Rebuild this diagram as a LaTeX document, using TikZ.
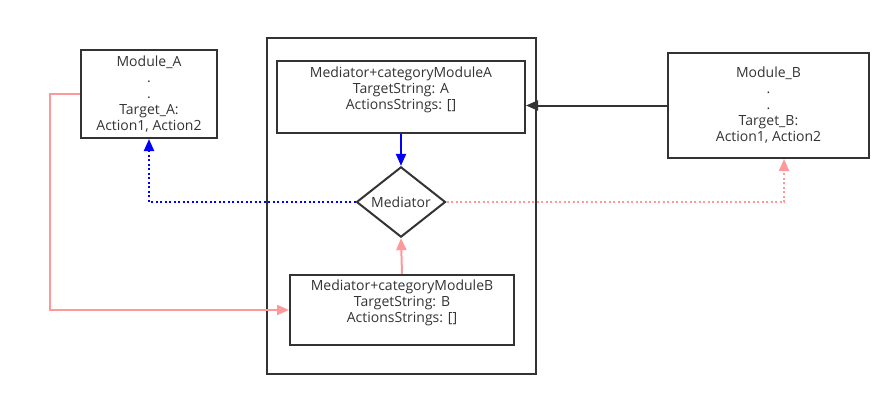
\documentclass[tikz,border=0pt]{standalone}
\usepackage{fontspec}
\setmainfont{Open Sans}
\usepackage{xcolor}
\usepackage{tikz}
\usetikzlibrary{arrows.meta,shapes.geometric}

\definecolor{ink}{HTML}{333333}
\definecolor{pinkline}{HTML}{FF9999}

\begin{document}
\begin{tikzpicture}[
x=1pt, y=-1pt,
font=\fontsize{14}{16}\selectfont,
box/.style={draw=ink, line width=2pt, text=ink, align=center, inner sep=0pt},
module/.style={box, minimum width=136pt, minimum height=88pt},
category/.style={box, text depth=18pt},
hub/.style={draw=ink, line width=2pt, text=ink, diamond, inner sep=0pt, minimum width=89pt, minimum height=70pt},
tip/.style={-{Triangle[length=12pt, width=10pt]}},
blackarr/.style={tip, draw=ink, line width=2pt},
bluearr/.style={tip, draw=blue, line width=2pt},
pinkarr/.style={tip, draw=pinkline, line width=2pt},
dots/.style={dash pattern=on 2pt off 2.5pt}
]
\useasboundingbox (0,0) rectangle (891,412);
% the two modules
\node[module] (modA) at (149,94) {Module\_A\\.\\.\\Target\_A:\\Action1, Action2};
\node[module, minimum width=201pt, minimum height=105pt] (modB) at (768.5,105.5) {Module\_B\\.\\.\\Target\_B:\\Action1, Action2};
% container with the categories and the mediator
\node[box, minimum width=269pt, minimum height=336pt] (frame) at (401.5,206) {};
\node[category, minimum width=248pt, minimum height=72pt] (catA) at (401,97) {Mediator+categoryModuleA\\TargetString: A\\ActionsStrings: []};
\node[hub] (med) at (401,202) {Mediator};
\node[category, minimum width=224pt, minimum height=70pt] (catB) at (402,310) {Mediator+categoryModuleB\\TargetString: B\\ActionsStrings: []};
\coordinate (modBin) at ([xshift=15.5pt]modB.south);
% connectors
\draw[blackarr] (modB.west) -- (modB.west -| catA.east);
\draw[bluearr] (catA.south) -- (med.north);
\draw[bluearr, dots] (med.west) -| (modA.south);
\draw[pinkarr] (catB.north) -- (med.south);
\draw[pinkarr, dots] (med.east) -| (modBin);
\draw[pinkarr] (modA.west) -- ++(-30,0) |- (catB.west);
\end{tikzpicture}
\end{document}
